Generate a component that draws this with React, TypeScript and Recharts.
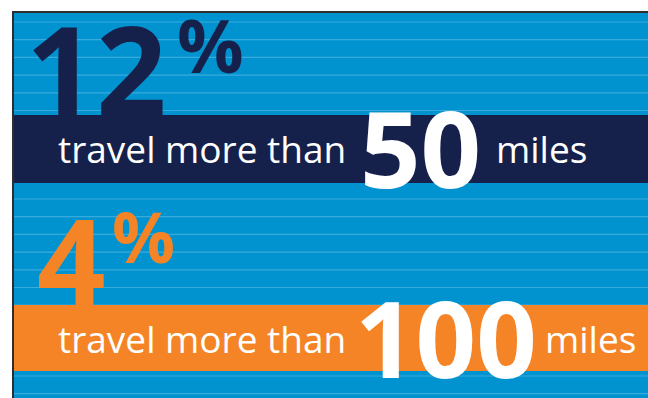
import React from 'react';
import { ComposedChart, XAxis, YAxis, ReferenceArea, CartesianGrid } from 'recharts';

// ---- data ----
const percentages = [12, 4];
const distances = [50, 100];
const phrase = 'travel more than';
const unitLabel = 'miles';
const bandColors = ['#15214b', '#f58426'];

// ---- layout (chart-space values, y measured from top of plot area) ----
const bandRanges: [number, number][] = [[102, 170], [292, 358]];
const pctShift = [0, 11];
const pctSignX = [163, 98];
const pctSignDy = [-42, -42];
const numX = [346, 341];
const unitX = [482, 531];

const BG = '#0093d0';
const LINE = '#3aaadc';
const W = 648;
const H = 398;
const MARGIN = { top: 13, right: 0, bottom: 0, left: 14 };
const PLOT_H = H - MARGIN.top;

const gridValues: number[] = [];
for (let v = 9; v < PLOT_H; v += 17.7) gridValues.push(v);

const chartData = percentages.map((p, i) => ({ pct: p, dist: distances[i] }));

const FONT = '"Open Sans", "DejaVu Sans", sans-serif';

function Band(props: any) {
  const { x, y, width, height, idx } = props;
  const color = bandColors[idx];
  const pctStr = String(percentages[idx]);
  const bigSize = idx === 0 ? 123 : 120;
  const pctSize = idx === 0 ? 74 : 70;
  return (
    <g>
      <rect x={x} y={y} width={width} height={height} fill={color} />
      <text x={x + 12 + pctShift[idx]} y={y + 1} fontFamily={FONT} fontWeight={700} fontSize={bigSize} fill={color}>
        {pctStr}
      </text>
      <text x={x + pctSignX[idx]} y={y + pctSignDy[idx]} fontFamily={FONT} fontWeight={700} fontSize={pctSize} fill={color}>
        %
      </text>
      <text x={x + 44} y={y + 48} fontFamily={FONT} fontSize={37} fill="#ffffff">
        {phrase}
      </text>
      <text x={x + numX[idx]} y={y + 73} fontFamily={FONT} fontWeight={700} fontSize={106} fill="#ffffff">
        {String(distances[idx])}
      </text>
      <text x={x + unitX[idx]} y={y + 48} fontFamily={FONT} fontSize={37} fill="#ffffff">
        {unitLabel}
      </text>
    </g>
  );
}

function gridGen(p: any): number[] {
  const s = p && p.yAxis ? p.yAxis.scale : null;
  if (typeof s === 'function') return gridValues.map((v) => s(v));
  const top = p && p.offset ? p.offset.top : MARGIN.top;
  const h = p && p.offset ? p.offset.height : PLOT_H;
  return gridValues.map((v) => top + (v / PLOT_H) * h);
}

export default function App() {
  return (
    <div style={{ position: 'absolute', left: 0, top: 0, width: W, height: H, background: '#ffffff', overflow: 'hidden' }}>
      <ComposedChart width={W} height={H} data={chartData} margin={MARGIN}>
        <CartesianGrid
          vertical={false}
          fill={BG}
          fillOpacity={1}
          stroke={LINE}
          strokeWidth={1.2}
          horizontalCoordinatesGenerator={gridGen}
        />
        <XAxis type="number" dataKey="pct" domain={[0, 100]} hide allowDataOverflow />
        <YAxis type="number" domain={[0, PLOT_H]} reversed hide allowDataOverflow ticks={gridValues} />
        {bandRanges.map((r, i) => (
          <ReferenceArea
            key={'b' + i}
            x1={0}
            x2={100}
            y1={r[0]}
            y2={r[1]}
            ifOverflow="visible"
            shape={(p: any) => <Band {...p} idx={i} />}
          />
        ))}
      </ComposedChart>
      <div style={{ position: 'absolute', left: 12, top: 11, width: W - 12, height: 2, background: '#2e2e2e' }} />
      <div style={{ position: 'absolute', left: 12, top: 11, width: 2, height: H - 11, background: '#2e2e2e' }} />
    </div>
  );
}
